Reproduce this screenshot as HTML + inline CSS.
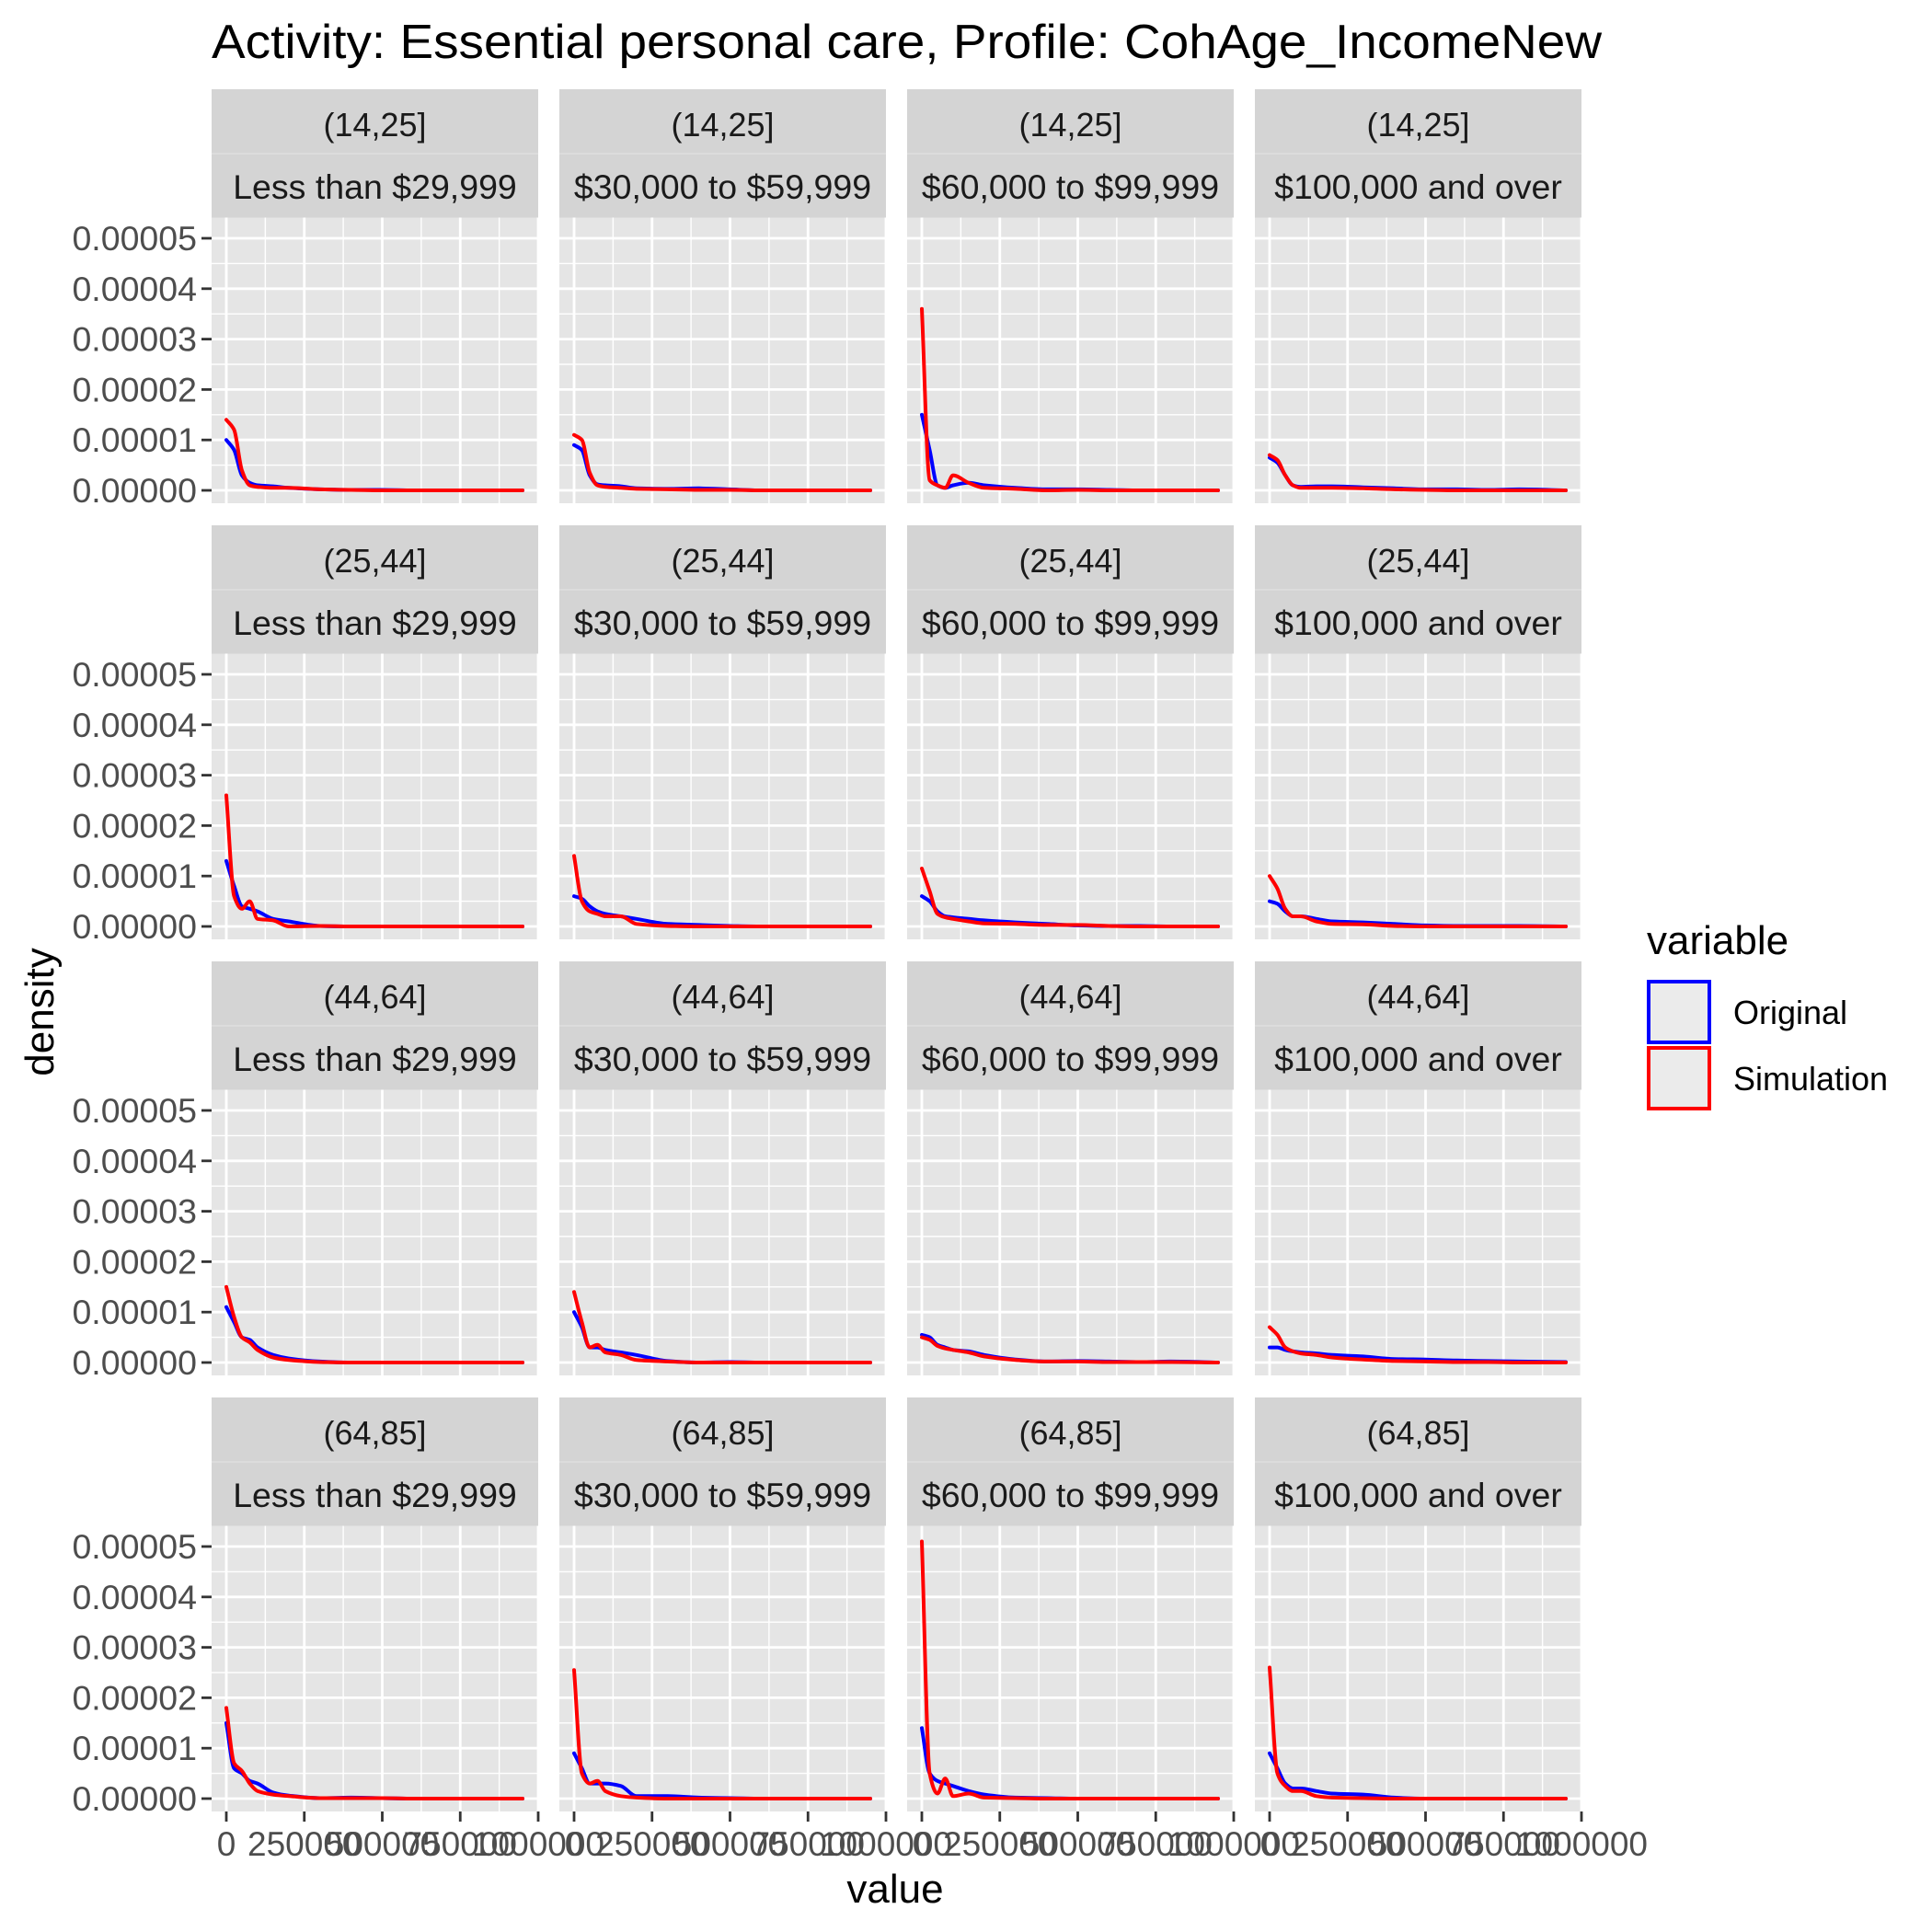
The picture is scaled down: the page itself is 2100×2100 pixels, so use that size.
<!DOCTYPE html>
<html><head><meta charset="utf-8"><style>
html,body{margin:0;padding:0;background:#fff;}
svg{display:block;font-family:"Liberation Sans",Arial,sans-serif;}
</style></head><body>
<svg id="chart" width="2100" height="2100" viewBox="0 0 2100 2100" xmlns="http://www.w3.org/2000/svg">
<rect x="0" y="0" width="2100" height="2100" fill="#fff"/>
<text x="230" y="63" font-size="52" fill="#000" textLength="1511" lengthAdjust="spacingAndGlyphs">Activity: Essential personal care, Profile: CohAge_IncomeNew</text>
<text x="973" y="2068" font-size="44" fill="#000" text-anchor="middle">value</text>
<text x="0" y="0" font-size="44" fill="#000" text-anchor="middle" transform="translate(58,1100) rotate(-90)">density</text>
<g>
<text x="1790" y="1037" font-size="44" fill="#000">variable</text>
<rect x="1792" y="1067" width="66" height="66" fill="#EBEBEB" stroke="#0000FF" stroke-width="4"/>
<rect x="1792" y="1139" width="66" height="66" fill="#EBEBEB" stroke="#FF0000" stroke-width="4"/>
<text x="1884" y="1113" font-size="36" fill="#000">Original</text>
<text x="1884" y="1185" font-size="36" fill="#000">Simulation</text>
</g>
<g id="panels"></g>
</svg>
<script>
const ageGroups = ["(14,25]","(25,44]","(44,64]","(64,85]"];
const incomeGroups = ["Less than $29,999","$30,000 to $59,999","$60,000 to $99,999","$100,000 and over"];
const yTickValues = [0,0.00001,0.00002,0.00003,0.00004,0.00005];
const yTickLabels = ["0.00000","0.00001","0.00002","0.00003","0.00004","0.00005"];
const xTickValues = [0,250000,500000,750000,1000000];
const xTickLabels = ["0","250000","500000","750000","1000000"];
const xValues = [0,25000,50000,75000,100000,150000,200000,300000,400000,500000,600000,700000,800000,950000];
// density values in units of 1e-5, [row][col]
const originalSeries = [
 [[1.0,0.8,0.3,0.15,0.1,0.08,0.05,0.02,0.01,0.01,0,0,0,0],
  [0.9,0.8,0.3,0.12,0.1,0.08,0.04,0.03,0.04,0.02,0,0,0,0],
  [1.5,0.8,0.1,0.05,0.1,0.15,0.1,0.05,0.02,0.02,0.01,0,0,0],
  [0.65,0.55,0.3,0.1,0.07,0.08,0.08,0.06,0.04,0.02,0.02,0.01,0.02,0]],
 [[1.3,0.8,0.4,0.35,0.3,0.15,0.1,0.01,0,0,0,0,0,0],
  [0.6,0.55,0.4,0.3,0.25,0.2,0.15,0.05,0.03,0.01,0,0,0,0],
  [0.6,0.5,0.3,0.2,0.18,0.15,0.12,0.08,0.05,0.02,0.01,0.01,0,0],
  [0.5,0.45,0.3,0.2,0.2,0.15,0.1,0.08,0.05,0.02,0.01,0.01,0.01,0]],
 [[1.1,0.8,0.5,0.45,0.3,0.15,0.08,0.02,0,0,0,0,0,0],
  [1.0,0.7,0.3,0.3,0.25,0.2,0.15,0.03,0,0.01,0,0,0,0],
  [0.55,0.5,0.35,0.3,0.25,0.22,0.15,0.06,0.02,0.03,0.02,0.01,0.02,0],
  [0.3,0.3,0.25,0.22,0.2,0.18,0.15,0.12,0.07,0.06,0.04,0.03,0.02,0.01]],
 [[1.5,0.6,0.5,0.35,0.3,0.12,0.06,0.01,0.02,0.01,0,0,0,0],
  [0.9,0.6,0.3,0.3,0.3,0.25,0.05,0.05,0.02,0.01,0,0,0,0],
  [1.4,0.5,0.35,0.3,0.25,0.15,0.08,0.02,0.01,0,0,0,0,0],
  [0.9,0.6,0.3,0.2,0.2,0.15,0.1,0.08,0.02,0,0,0,0,0]]
];
const simulationSeries = [
 [[1.4,1.2,0.4,0.1,0.07,0.05,0.05,0.02,0.01,0,0,0,0,0],
  [1.1,1.0,0.35,0.1,0.07,0.05,0.03,0.02,0.01,0.01,0,0,0,0],
  [3.6,0.2,0.1,0.05,0.3,0.15,0.05,0.03,0,0.01,0,0,0,0],
  [0.7,0.6,0.3,0.1,0.05,0.05,0.05,0.04,0.02,0.01,0,0,0,0]],
 [[2.6,0.6,0.35,0.5,0.15,0.12,0,0.01,0,0,0,0,0,0],
  [1.4,0.5,0.3,0.25,0.2,0.2,0.05,0.01,0,0,0,0,0,0],
  [1.15,0.7,0.25,0.18,0.15,0.1,0.06,0.05,0.03,0.03,0.01,0,0,0],
  [1.0,0.75,0.35,0.2,0.2,0.1,0.05,0.04,0.01,0,0,0,0,0]],
 [[1.5,0.9,0.5,0.4,0.25,0.1,0.05,0.01,0,0,0,0,0,0],
  [1.4,0.8,0.3,0.35,0.2,0.15,0.05,0.02,0,0,0,0,0,0],
  [0.5,0.45,0.33,0.28,0.25,0.2,0.12,0.05,0.02,0.02,0.01,0.01,0.01,0],
  [0.7,0.55,0.3,0.22,0.18,0.15,0.1,0.06,0.03,0.02,0.01,0.01,0,0]],
 [[1.8,0.7,0.55,0.3,0.15,0.08,0.05,0.01,0.01,0.01,0,0,0,0],
  [2.55,0.5,0.3,0.35,0.15,0.05,0.02,0,0,0,0,0,0,0],
  [5.1,0.5,0.1,0.4,0.05,0.1,0.02,0.01,0,0,0,0,0,0],
  [2.6,0.5,0.25,0.15,0.15,0.05,0.02,0.01,0,0,0,0,0,0]]
];

const NS = "http://www.w3.org/2000/svg";
const colLeft = [230,608,986,1364];
const PW = 355, STRIP_TOP0 = 97, ROW_STEP = 474, STRIP_H = 139.5, PANEL_H = 310.5;
function mk(tag, attrs, parent){const e=document.createElementNS(NS,tag);for(const k in attrs)e.setAttribute(k,attrs[k]);parent.appendChild(e);return e;}
function monotonePath(px, py){
  const n=px.length, d=[], m=new Array(n);
  for(let i=0;i<n-1;i++) d.push((py[i+1]-py[i])/(px[i+1]-px[i]));
  m[0]=d[0]; m[n-1]=d[n-2];
  for(let i=1;i<n-1;i++){ m[i] = (d[i-1]*d[i]<=0) ? 0 : 2/(1/d[i-1]+1/d[i]); }
  let s='M'+px[0].toFixed(1)+','+py[0].toFixed(1);
  for(let i=0;i<n-1;i++){
    const h=(px[i+1]-px[i])/3;
    s+=' C'+(px[i]+h).toFixed(1)+','+(py[i]+m[i]*h).toFixed(1)+' '+(px[i+1]-h).toFixed(1)+','+(py[i+1]-m[i+1]*h).toFixed(1)+' '+px[i+1].toFixed(1)+','+py[i+1].toFixed(1);
  }
  return s;
}
const root = document.getElementById('panels');

for(let r=0;r<4;r++){
  const stripTop = STRIP_TOP0 + r*ROW_STEP;
  const pTop = stripTop + STRIP_H;
  const zeroY = pTop + 296.5;
  const yScale = v => zeroY - v/0.00001*54.8;
  for(let c=0;c<4;c++){
    const L = colLeft[c];
    const xScale = v => L + 16 + v/1000000*339;
    const g = mk('g',{},root);
    
    
    const st = mk('rect',{x:L,y:stripTop,width:PW,height:STRIP_H,fill:'#D4D4D4'},g);
    
    
    mk('line',{x1:L,x2:L+PW,y1:stripTop+70,y2:stripTop+70,stroke:'#DEDEDE','stroke-width':1.5},g);
    const t1 = mk('text',{x:L+PW/2,y:stripTop+51,'font-size':36,fill:'#1A1A1A','text-anchor':'middle'},g);
    t1.textContent = ageGroups[r];
    
    
    const t2 = mk('text',{x:L+PW/2,y:stripTop+119,'font-size':37.5,fill:'#1A1A1A','text-anchor':'middle'},g);
    t2.textContent = incomeGroups[c];
    
    
    const bg = mk('rect',{x:L,y:pTop,width:PW,height:PANEL_H,fill:'#E5E5E5'},g);
    
    
    for(let i=0;i<yTickValues.length-1;i++){
      const yy = yScale((yTickValues[i]+yTickValues[i+1])/2);
      mk('line',{x1:L,x2:L+PW,y1:yy,y2:yy,stroke:'#FFFFFF','stroke-width':1.4},g);
    }
    for(let i=-1;i<xTickValues.length;i++){
      const xv = i<0 ? -125000 : (xTickValues[i]+125000);
      const xx = xScale(xv);
      if(xx>L && xx<L+PW) mk('line',{x1:xx,x2:xx,y1:pTop,y2:pTop+PANEL_H,stroke:'#FFFFFF','stroke-width':1.4},g);
    }
    yTickValues.forEach(v=>{const yy=yScale(v);mk('line',{x1:L,x2:L+PW,y1:yy,y2:yy,stroke:'#fff','stroke-width':2.8},g);});
    xTickValues.forEach(v=>{const xx=xScale(v);if(xx<=L+PW)mk('line',{x1:xx,x2:xx,y1:pTop,y2:pTop+PANEL_H,stroke:'#fff','stroke-width':2.8},g);});
    [[originalSeries,'#0000FF','original-density-line'],[simulationSeries,'#FF0000','simulation-density-line']].forEach(([s,col,nm])=>{
      const px = xValues.map(xScale);
      const py = s[r][c].map(v=>yScale(v*0.00001));
      const pl = mk('path',{d:monotonePath(px,py),fill:'none',stroke:col,'stroke-width':4,'stroke-linejoin':'round','stroke-linecap':'round'},g);
      
      
    });
    if(c===0){
      yTickValues.forEach((v,i)=>{
        const yy=yScale(v);
        mk('line',{x1:L-11,x2:L,y1:yy,y2:yy,stroke:'#333','stroke-width':2.8},g);
        const tl = mk('text',{x:L-16,y:yy+13,'font-size':37.5,fill:'#4D4D4D','text-anchor':'end'},g);
        tl.textContent = yTickLabels[i];
        
        
      });
    }
    if(r===3){
      const by = pTop+PANEL_H;
      xTickValues.forEach((v,i)=>{
        const xx=xScale(v);
        mk('line',{x1:xx,x2:xx,y1:by,y2:by+11,stroke:'#333','stroke-width':2.8},g);
        const tl = mk('text',{x:xx,y:by+48,'font-size':37,fill:'#4D4D4D','text-anchor':'middle'},g);
        tl.textContent = xTickLabels[i];
        
        
      });
    }
  }
}
</script>
</body></html>
